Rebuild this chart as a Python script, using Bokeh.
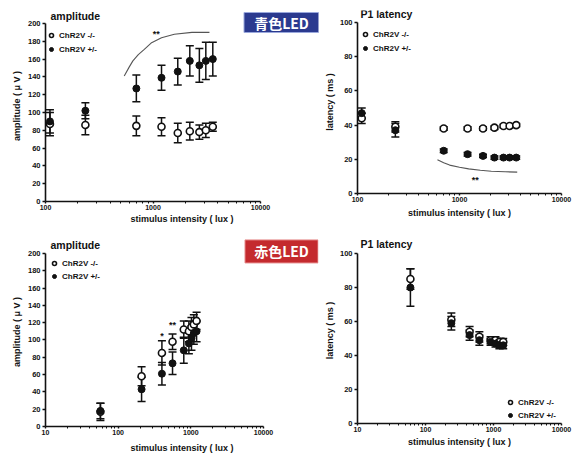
from bokeh.plotting import figure
from bokeh.layouts import row, column
from bokeh.models import (ColumnDataSource, Whisker, TeeHead, FixedTicker,
                          NumeralTickFormatter)
from bokeh.core.properties import value
from bokeh.embed import file_html
from bokeh.resources import INLINE

# ---------------- data ----------------
series_labels = ["ChR2V -/-", "ChR2V +/-"]

# blue LED
blue_lux = [110, 235, 700, 1200, 1700, 2200, 2700, 3100, 3600]
blue_amp_ko = [87, 86, 85, 84, 77, 79, 78, 80, 84]
blue_amp_ko_err = [13, 11, 11, 10, 11, 10, 8, 8, 5]
blue_amp_het = [90, 102, 127, 139, 146, 158, 153, 158, 160]
blue_amp_het_err = [13, 9, 15, 14, 15, 17, 19, 21, 19]
blue_lat_ko = [44, 39, 38, 38, 38, 38.5, 39.5, 39.5, 40]
blue_lat_ko_err = [3, 3, 1, 1, 1, 1, 1, 1, 1]
blue_lat_het = [47, 37, 25, 23, 22, 21, 21, 21, 21]
blue_lat_het_err = [3, 4, 1, 1, 1, 1, 1, 1, 1]

# red LED
red_lux_amp = [57, 210, 400, 560, 800, 940, 1020, 1100, 1200]
red_amp_ko = [17, 58, 85, 98, 112, 110, 115, 118, 122]
red_amp_ko_err = [10, 11, 14, 9, 10, 12, 11, 11, 10]
red_amp_het = [18, 43, 61, 73, 88, 96, 102, 108, 110]
red_amp_het_err = [9, 14, 13, 13, 15, 12, 14, 13, 12]
red_lux_lat = [60, 240, 445, 620, 905, 1070, 1220, 1390]
red_lat_ko = [85, 61, 54, 51, 49, 49, 48, 48]
red_lat_ko_err = [6, 4, 3, 3, 2, 2, 2, 2]
red_lat_het = [80, 59, 52, 49, 48, 47, 46, 46]
red_lat_het_err = [11, 4, 3, 3, 2, 2, 2, 2]

# significance annotations
blue_amp_curve_x = [540, 600, 650, 730, 830, 960, 1200, 1580, 2300, 3350]
blue_amp_curve_y = [141, 151, 158, 165, 171, 178, 184, 188, 190, 190]
blue_amp_star = (1070, 188, "**")
blue_lat_curve_x = [608, 700, 800, 1000, 1230, 1600, 2050, 2800, 3680]
blue_lat_curve_y = [19.7, 18.0, 16.6, 15.4, 14.4, 13.6, 13.0, 12.7, 12.5]
blue_lat_star = (1430, 8, "**")
red_amp_star_x = [400, 560]
red_amp_star_y = [105, 117]
red_amp_star_t = ["*", "**"]

badge_texts = ["青色LED", "赤色LED"]
panel_titles = ["amplitude", "P1 latency", "amplitude", "P1 latency"]
amp_ticks = list(range(0, 201, 20))
lat_ticks = list(range(0, 101, 20))

FONT = "Liberation Sans"
INK = "#111111"


def minor(decades):
    return [m * 10 ** d for d in decades for m in range(2, 10)]


class Geo:
    """page-pixel geometry of one panel (log x, linear y)"""
    def __init__(self, fig_left, fig_top, w, h, ax_left, ax_right, dec0, ndec,
                 y0_px, ytop_px, ymax, frame_right, frame_top):
        self.fl, self.ft, self.w, self.h = fig_left, fig_top, w, h
        self.ax_left, self.dec0 = ax_left, dec0
        self.ppd = (ax_right - ax_left) / ndec
        self.y0 = y0_px
        self.ppu = (y0_px - ytop_px) / ymax
        self.fr, self.ftop = frame_right, frame_top

    def x(self, px):
        return 10 ** (self.dec0 + (px - self.ax_left) / self.ppd)

    def y(self, py):
        return (self.y0 - py) / self.ppu


def panel(g, ylabel, xticks, xminor, yticks, xbounds, ybounds, xlab_standoff,
          ylab_standoff):
    p = figure(width=g.w, height=g.h, x_axis_type="log",
               x_range=(g.x(g.ax_left), g.x(g.fr)),
               y_range=(0, g.y(g.ftop)),
               output_backend="svg", toolbar_location=None, title=None,
               min_border_left=g.ax_left - g.fl,
               min_border_right=g.w - (g.fr - g.fl),
               min_border_top=g.ftop - g.ft,
               min_border_bottom=g.h - (g.y0 - g.ft))
    p.grid.visible = False
    p.outline_line_color = None
    p.background_fill_color = "white"
    p.border_fill_color = "white"
    p.xaxis.ticker = FixedTicker(ticks=xticks, minor_ticks=xminor)
    p.xaxis.formatter = NumeralTickFormatter(format="0")
    p.yaxis.ticker = FixedTicker(ticks=yticks)
    p.xaxis.bounds = xbounds
    p.yaxis.bounds = ybounds
    for ax in (p.xaxis[0], p.yaxis[0]):
        ax.axis_line_width = 1.6
        ax.axis_line_color = INK
        ax.major_tick_line_color = INK
        ax.major_tick_line_width = 1.4
        ax.major_tick_in = 0
        ax.minor_tick_line_color = INK
        ax.minor_tick_out = 2
        ax.minor_tick_in = 0
        ax.major_label_text_font = FONT
        ax.major_label_text_font_style = "bold"
        ax.major_label_text_color = INK
        ax.axis_label_text_font = FONT
        ax.axis_label_text_font_style = "bold"
        ax.axis_label_text_font_size = "9px"
        ax.axis_label_text_color = INK
    p.xaxis.major_label_text_font_size = "7px"
    p.yaxis.major_label_text_font_size = "7.5px"
    p.xaxis.major_tick_out = 2
    p.xaxis.major_label_standoff = 1
    p.xaxis.axis_label_standoff = xlab_standoff
    p.yaxis.major_tick_out = 3
    p.yaxis.major_label_standoff = 2
    p.yaxis.axis_label_standoff = ylab_standoff
    p.xaxis.axis_label = "stimulus intensity ( lux )"
    p.yaxis.axis_label = ylabel
    return p


def add_series(p, xs, ko, ko_err, het, het_err, legend_loc, spacing=4):
    for ys, es in ((ko, ko_err), (het, het_err)):
        src = ColumnDataSource(dict(x=xs, lo=[a - b for a, b in zip(ys, es)],
                                    hi=[a + b for a, b in zip(ys, es)]))
        w = Whisker(source=src, base="x", lower="lo", upper="hi",
                    line_color=INK, line_width=1.5,
                    upper_head=TeeHead(size=8, line_color=INK, line_width=1.5),
                    lower_head=TeeHead(size=8, line_color=INK, line_width=1.5))
        p.add_layout(w)
    p.scatter(xs, ko, marker="circle", size=7, fill_color="white",
              line_color=INK, line_width=1.6, legend_label=series_labels[0])
    p.scatter(xs, het, marker="circle", size=7, fill_color=INK,
              line_color=INK, legend_label=series_labels[1])
    lg = p.legend[0]
    lg.location = legend_loc
    lg.glyph_width = 10
    lg.glyph_height = 10
    lg.label_height = 10
    lg.label_standoff = 3
    lg.spacing = spacing
    lg.padding = 2
    lg.margin = 0
    lg.border_line_color = None
    lg.background_fill_alpha = 0
    lg.label_text_font = FONT
    lg.label_text_font_style = "bold"
    lg.label_text_font_size = "8px"
    lg.label_text_color = INK


def stars(p, xs, ys, ts):
    p.text(x=xs, y=ys, text=ts, text_font=value(FONT), text_font_style="bold",
           text_font_size="9px", text_align="center", text_baseline="middle",
           text_color=INK)


def badge(p, g, cx, cy, bw, bh, text, fill, edge):
    p.rect(x=[g.x(cx)], y=[g.y(cy)], width=bw, height=bh, width_units="screen",
           height_units="screen", fill_color=fill, line_color=edge, line_width=1)
    p.text(x=[g.x(cx)], y=[g.y(cy)], text=[text], text_color="white",
           text_font=value("Noto Sans CJK JP"), text_font_style="bold",
           text_font_size="14px", text_align="center", text_baseline="middle")


def inner_title(p, g, px, py, text):
    p.text(x=[g.x(px)], y=[g.y(py)], text=[text], text_color=INK,
           text_font=value(FONT), text_font_style="bold", text_font_size="10.5px",
           text_align="left", text_baseline="middle")


# panel 1: blue amplitude (figure at 0,0 ; 321 x 233)
g1 = Geo(0, 0, 321, 233, 45, 260, 2, 2, 201, 23, 200, 318, 10)
p1 = panel(g1, "amplitude ( μ V )", [100, 1000, 10000], minor([2, 3]),
           amp_ticks, (100, 10000), (0, 200), 1, 3)
add_series(p1, blue_lux, blue_amp_ko, blue_amp_ko_err, blue_amp_het,
           blue_amp_het_err, (1, 147))
p1.line(blue_amp_curve_x, blue_amp_curve_y, line_color="#555555", line_width=1.1)
stars(p1, [blue_amp_star[0]], [blue_amp_star[1]], [blue_amp_star[2]])
badge(p1, g1, 281, 22, 75, 20, badge_texts[0], "#2b3a8f", "#9aa8dc")
inner_title(p1, g1, 50, 15, panel_titles[0])

# panel 2: blue latency (figure at 321,0 ; 258 x 233)
g2 = Geo(321, 0, 258, 233, 352, 561, 2, 2, 193, 22, 100, 561, 10)
p2 = panel(g2, "latency ( ms )", [100, 1000, 10000], minor([2, 3]),
           lat_ticks, (100, 10000), (0, 100), 3, 2)
add_series(p2, blue_lux, blue_lat_ko, blue_lat_ko_err, blue_lat_het,
           blue_lat_het_err, (3, 140))
p2.line(blue_lat_curve_x, blue_lat_curve_y, line_color="#555555", line_width=1.1)
stars(p2, [blue_lat_star[0]], [blue_lat_star[1]], [blue_lat_star[2]])
inner_title(p2, g2, 355, 13, panel_titles[1])

# panel 3: red amplitude (figure at 0,233 ; 321 x 222)
g3 = Geo(0, 233, 321, 222, 45, 263, 1, 3, 427, 253, 200, 318, 237)
p3 = panel(g3, "amplitude ( μ V )", [10, 100, 1000, 10000], minor([1, 2, 3]),
           amp_ticks, (10, 10000), (0, 200), 5, 3)
add_series(p3, red_lux_amp, red_amp_ko, red_amp_ko_err, red_amp_het,
           red_amp_het_err, (4, 145), spacing=3)
stars(p3, red_amp_star_x, red_amp_star_y, red_amp_star_t)
badge(p3, g3, 281, 251, 73, 23, badge_texts[1], "#c42a2e", "#e58a8a")
inner_title(p3, g3, 50, 245, panel_titles[2])

# panel 4: red latency (figure at 321,233 ; 258 x 222)
g4 = Geo(321, 233, 258, 222, 352, 561, 1, 3, 423, 253, 100, 561, 237)
p4 = panel(g4, "latency ( ms )", [10, 100, 1000, 10000], minor([1, 2, 3]),
           lat_ticks, (10, 10000), (0, 100), 2, 2)
add_series(p4, red_lux_lat, red_lat_ko, red_lat_ko_err, red_lat_het,
           red_lat_het_err, (148, 3), spacing=3)
inner_title(p4, g4, 355, 243, panel_titles[3])

layout = row(column(p1, p3), column(p2, p4))

open("out.html", "w").write(file_html(layout, INLINE))
